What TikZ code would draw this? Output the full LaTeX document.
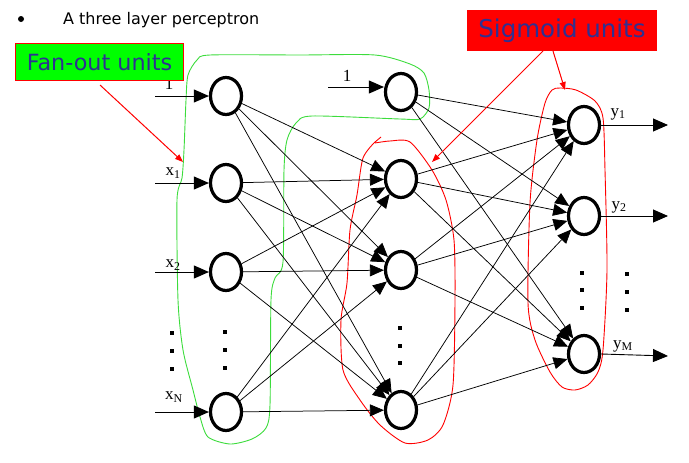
\documentclass[tikz,border=0pt]{standalone}
\usepackage{fontspec}
\setmainfont{DejaVu Sans}
\newfontfamily\serifl{Liberation Serif}
\usetikzlibrary{arrows.meta,shapes.geometric}
\definecolor{txtblue}{RGB}{46,49,146}
\definecolor{boxgreen}{RGB}{0,255,0}
\definecolor{blobgreen}{RGB}{60,220,60}
\tikzset{
  neuron/.style={draw, line width=3.2pt, ellipse, fill=white, minimum width=31pt, minimum height=37pt, inner sep=0pt},
  conn/.style={line width=0.75pt, -{Triangle[length=14pt,width=12pt]}},
  inarr/.style={line width=0.9pt, -{Triangle[length=15pt,width=13pt]}},
  redarr/.style={red, line width=1pt, -{Triangle[length=8pt,width=6pt]}},
  dotsq/.style={fill=black, inner sep=0pt, minimum size=3.8pt, rectangle},
  lab/.style={font=\serifl\fontsize{17}{17}\selectfont, inner sep=0pt},
  blob/.style={line width=0.9pt}
}
\begin{document}
\begin{tikzpicture}[x=1pt,y=-1pt]
\useasboundingbox (0,0) rectangle (689,463);
% title
\fill (21,19) circle (3);
\node[anchor=base west, inner sep=0pt, font=\fontsize{16}{17}\selectfont] (title) at (63,24) {A three layer perceptron};
% blobs
\draw[blob, blobgreen] plot[smooth cycle, tension=0.45] coordinates {(188,75) (197,60) (210,55) (300,55) (375,55) (410,64) (424,73) (429,90) (429,108) (420,119) (400,119) (312,116) (296,123) (287,140) (284,170) (283,262) (275,278) (271,300) (270,405) (266,428) (252,439) (230,444) (208,437) (200,417) (193,390) (183,350) (178,300) (177,200) (182,178) (184,150) (186,100)};
\draw[blob, red] (381,137) -- (375,142) plot[smooth, tension=0.45] coordinates {(375,142) (363,158) (357,195) (350,230) (347,283) (341,320) (343,370) (360,400) (380,425) (405,443) (428,440) (443,425) (453,385) (455,300) (454,240) (446,200) (432,170) (410,142) (390,141) (375,143)};
\draw[blob, red] plot[smooth cycle, tension=0.45] coordinates {(560,88) (576,90) (595,101) (603,118) (605,170) (607,270) (603,350) (598,372) (588,385) (575,390) (562,387) (550,372) (535,340) (528,303) (530,203) (537,140) (545,103) (552,90)};
% neurons
\node[neuron] (i0) at (226,96) {};
\node[neuron] (i1) at (226,183) {};
\node[neuron] (i2) at (226,272) {};
\node[neuron] (iN) at (226,412) {};
\node[neuron] (h0) at (401,92) {};
\node[neuron] (h1) at (401,179) {};
\node[neuron] (h2) at (401,270) {};
\node[neuron] (hN) at (401,410) {};
\node[neuron] (o1) at (584,125) {};
\node[neuron] (o2) at (584,216) {};
\node[neuron] (oM) at (584,354) {};
% connections input -> hidden
\foreach \a in {i0,i1,i2,iN}{
  \foreach \b in {h1,h2,hN}{
    \draw[conn] (\a) -- (\b);
  }
}
\foreach \a in {h0,h1,h2,hN}{
  \foreach \b in {o1,o2,oM}{
    \draw[conn] (\a) -- (\b);
  }
}
% input lines
\coordinate (ci0) at (155,96);
\coordinate (ci1) at (155,183);
\coordinate (ci2) at (155,272);
\coordinate (ciN) at (155,412);
\coordinate (ch0) at (328,87);
\draw[inarr] (ci0) -- (i0.west);
\draw[inarr] (ci1) -- (i1.west);
\draw[inarr] (ci2) -- (i2.west);
\draw[inarr] (ciN) -- (iN.west);
\draw[inarr] (ch0) -- (ch0 -| h0.west);
% output lines
\coordinate (co1) at (668,125);
\coordinate (co2) at (668,216);
\coordinate (coM) at (668,356);
\draw[inarr] (o1.east) -- (co1);
\draw[inarr] (o2.east) -- (co2);
\draw[inarr] (oM.east) -- (coM);
% labels
\node[lab] (l0) at (169,84) {1};
\node[lab] (l1) at (173,173) {x\textsubscript{1}};
\node[lab] (l2) at (173,265) {x\textsubscript{2}};
\node[lab] (lN) at (174,397) {x\textsubscript{N}};
\node[lab] (lh) at (347,76) {1};
\node[lab] (y1) at (618,114) {y\textsubscript{1}};
\node[lab] (y2) at (619,207) {y\textsubscript{2}};
\node[lab] (yM) at (623,346) {y\textsubscript{M}};
% dots
\foreach \yy in {333,351,369}{\node[dotsq] at (172,\yy) {};}
\foreach \yy in {332,350,368}{\node[dotsq] at (225,\yy) {};}
\foreach \yy in {328,346,363}{\node[dotsq] at (400,\yy) {};}
\foreach \yy in {273,290,308}{\node[dotsq] at (582,\yy) {};}
\foreach \yy in {274,292,310}{\node[dotsq] at (627,\yy) {};}
% boxes
\node[fill=boxgreen, draw=red, line width=1pt, minimum width=168pt, minimum height=37pt, inner sep=0pt, text=txtblue, font=\fontsize{22.3}{24}\selectfont] (fan) at (99.5,62) {Fan-out units};
\node[fill=red, minimum width=190pt, minimum height=41pt, inner sep=0pt, text=txtblue, font=\fontsize{24.5}{26}\selectfont] (sig) at (562,30.5) {Sigmoid units};
% red arrows
\coordinate (fa) at (100,85);
\coordinate (fb) at (183,162);
\coordinate (sa) at (543,51);
\coordinate (sb) at (432,162);
\coordinate (sc) at (553,51);
\coordinate (sd) at (565,90);
\draw[redarr] (fa) -- (fb);
\draw[redarr] (sa) -- (sb);
\draw[redarr] (sc) -- (sd);
\end{tikzpicture}
\end{document}
